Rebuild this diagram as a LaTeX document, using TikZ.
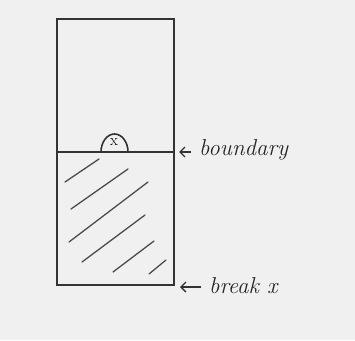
\documentclass[tikz,border=0pt]{standalone}
\usetikzlibrary{arrows.meta,positioning}

\begin{document}
\begin{tikzpicture}[
    x=1pt, y=-1pt,
    pen/.style={line width=1.6pt, draw=black!80},
    hatch/.style={line width=1.3pt, draw=black!70, line cap=round},
    arrow/.style={-{Straight Barb[length=5pt, width=10pt]}, line width=1.3pt, draw=black!80},
    label/.style={font=\fontsize{23}{26}\selectfont\itshape, text=black!85, inner sep=0pt, anchor=west},
]

% ================== Paper ==================
\fill[black!6] (0,0) rectangle (355,340);
\useasboundingbox (0,0) rectangle (355,340);

% ================== Column ==================
\coordinate (tl) at (57,19);
\coordinate (tr) at (174,19);
\coordinate (bl) at (57,285);
\coordinate (br) at (174,285);
\coordinate (ml) at (57,152);
\coordinate (mr) at (174,152);
\draw[pen] (tl) -- (tr) -- (br) -- (bl) -- cycle;
\draw[pen] (ml) -- (mr);

% bubble on the boundary
\draw[pen] (101,152) arc[start angle=180, end angle=360, x radius=13.5, y radius=18];
\node[font=\fontsize{16}{16}\selectfont, inner sep=0pt] (x) at (114,142) {x};

% hatching below the boundary
\draw[hatch] (65,182) -- (99,159);
\draw[hatch] (71,209) -- (128,169);
\draw[hatch] (69,242) -- (148,182);
\draw[hatch] (82,262) -- (145,215);
\draw[hatch] (113,272) -- (154,241);
\draw[hatch] (149,274) -- (166,260);

% ================== Labels ==================
\node[label] (bound) at (199,150) {boundary};
\node[label] (brk) at (209,286) {break x};

\draw[arrow] (bound.west) ++(-8,2) coordinate (ba) -- ++(-12,0);
\draw[arrow] (brk.west) ++(-8,1) coordinate (bk) -- ++(-21,0);

\end{tikzpicture}
\end{document}
